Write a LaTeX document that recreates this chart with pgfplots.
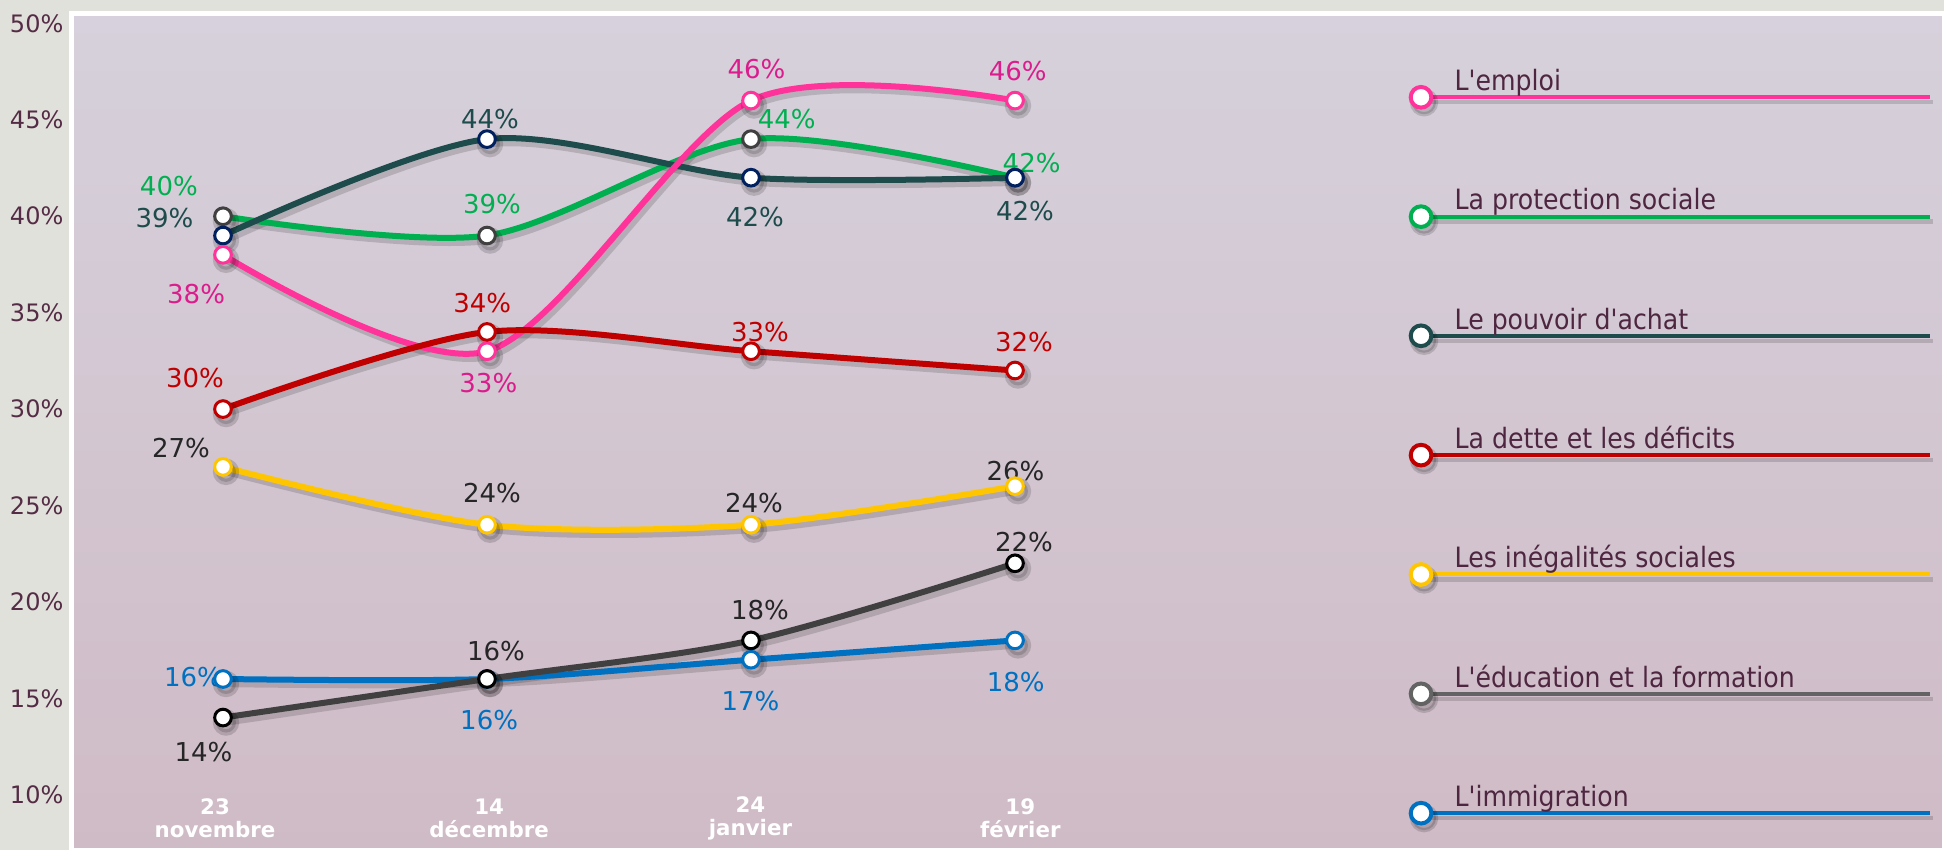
\documentclass[border=0pt]{standalone}
\usepackage{fontspec}
\setmainfont{DejaVu Sans}
\newfontfamily\condfont{DejaVu Sans Condensed}
\usepackage{pgfplots}
\pgfplotsset{compat=1.18}

\definecolor{pageback}{HTML}{E1E1DB}
\definecolor{bgtop}{HTML}{D6D1DC}
\definecolor{bgbot}{HTML}{CFBBC6}
\definecolor{ticktext}{HTML}{542C45}
\definecolor{legtext}{HTML}{4F2640}
\definecolor{cemploi}{HTML}{FF3399}
\definecolor{lemploi}{HTML}{DB1C8C}
\definecolor{cprot}{HTML}{00B050}
\definecolor{cpouv}{HTML}{1E4B4B}
\definecolor{mpouv}{HTML}{002060}
\definecolor{cdette}{HTML}{C00000}
\definecolor{cinegal}{HTML}{FFC600}
\definecolor{ceduc}{HTML}{404040}
\definecolor{leduc}{HTML}{636363}
\definecolor{cimmig}{HTML}{0070C0}
\definecolor{darklab}{HTML}{262626}

\tikzset{
  lab/.style={font=\fontsize{7.8}{9}\selectfont, inner sep=0pt},
  xl/.style={font=\bfseries\fontsize{6.4}{6.9}\selectfont, text=white,
    align=center, inner sep=0pt},
  lt/.style={font=\condfont\fontsize{8.4}{9}\selectfont, text=legtext,
    anchor=base west, inner sep=0pt},
}

\begin{document}
\begin{tikzpicture}
% page behind the framed plot area (1 px = 0.3pt)
\fill[pageback] (-21.6pt,0) rectangle (561.6pt,255pt);
\begin{axis}[
  scale only axis,
  width=561.6pt, height=250.8pt,
  xmin=-0.572, xmax=6.519,
  ymin=7.13, ymax=50.49,
  axis line style={draw=white, line width=1.5pt},
  axis background/.style={shade, top color=bgtop, bottom color=bgbot},
  xtick=\empty,
  ytick={10,15,...,50},
  yticklabel={\pgfmathprintnumber{\tick}\%},
  /pgf/number format/assume math mode=true,
  yticklabel style={font=\fontsize{7.2}{8}\selectfont, text=ticktext,
    anchor=east, inner sep=0pt, xshift=-2.4pt},
  major tick length=0pt,
  shadow/.style={black, opacity=0.15, line width=1.9pt, smooth,
    xshift=0.9pt, yshift=-1.5pt, mark=*, mark size=3pt},
  legshadow/.style={black, opacity=0.15, line width=1.3pt, sharp plot,
    xshift=0.9pt, yshift=-1.5pt, mark=*, mark indices={1}, mark size=3.6pt},
  serie/.style 2 args={#1, line width=1.8pt, smooth, mark=*, mark size=2.5pt,
    mark options={fill=white, draw=#2, line width=0.9pt}},
  leg/.style={#1, line width=1.2pt, sharp plot, mark=*, mark indices={1}, mark size=3.1pt,
    mark options={fill=white, draw=#1, line width=1.2pt}},
]
% shadows
\addplot[shadow] coordinates {(0,16) (1,16) (2,17) (3,18)};
\addplot[shadow] coordinates {(0,14) (1,16) (2,18) (3,22)};
\addplot[shadow] coordinates {(0,27) (1,24) (2,24) (3,26)};
\addplot[shadow] coordinates {(0,40) (1,39) (2,44) (3,42)};
\addplot[shadow] coordinates {(0,39) (1,44) (2,42) (3,42)};
\addplot[shadow] coordinates {(0,38) (1,33) (2,46) (3,46)};
\addplot[shadow] coordinates {(0,30) (1,34) (2,33) (3,32)};
\addplot[legshadow] coordinates {(4.538,46.17) (6.466,46.17)};
\addplot[legshadow] coordinates {(4.538,39.98) (6.466,39.98)};
\addplot[legshadow] coordinates {(4.538,33.80) (6.466,33.80)};
\addplot[legshadow] coordinates {(4.538,27.61) (6.466,27.61)};
\addplot[legshadow] coordinates {(4.538,21.42) (6.466,21.42)};
\addplot[legshadow] coordinates {(4.538,15.23) (6.466,15.23)};
\addplot[legshadow] coordinates {(4.538,9.04) (6.466,9.04)};

% series
\addplot[serie={cimmig}{cimmig}] coordinates {(0,16) (1,16) (2,17) (3,18)};
\addplot[serie={ceduc}{black}] coordinates {(0,14) (1,16) (2,18) (3,22)};
\addplot[serie={cinegal}{cinegal}] coordinates {(0,27) (1,24) (2,24) (3,26)};
\addplot[serie={cprot}{ceduc}] coordinates {(0,40) (1,39) (2,44) (3,42)};
\addplot[serie={cpouv}{mpouv}] coordinates {(0,39) (1,44) (2,42) (3,42)};
\addplot[serie={cemploi}{cemploi}] coordinates {(0,38) (1,33) (2,46) (3,46)};
\addplot[serie={cdette}{cdette}] coordinates {(0,30) (1,34) (2,33) (3,32)};

% legend
\addplot[leg=cemploi] coordinates {(4.538,46.17) (6.466,46.17)};
\addplot[leg=cprot] coordinates {(4.538,39.98) (6.466,39.98)};
\addplot[leg=cpouv] coordinates {(4.538,33.80) (6.466,33.80)};
\addplot[leg=cdette] coordinates {(4.538,27.61) (6.466,27.61)};
\addplot[leg=cinegal] coordinates {(4.538,21.42) (6.466,21.42)};
\addplot[leg=leduc] coordinates {(4.538,15.23) (6.466,15.23)};
\addplot[leg=cimmig] coordinates {(4.538,9.04) (6.466,9.04)};
\node[lt] at (axis cs:4.663,46.17) [yshift=2pt] {L'emploi};
\node[lt] at (axis cs:4.663,39.98) [yshift=2pt] {La protection sociale};
\node[lt] at (axis cs:4.663,33.80) [yshift=2pt] {Le pouvoir d'achat};
\node[lt] at (axis cs:4.663,27.61) [yshift=2pt] {La dette et les déficits};
\node[lt] at (axis cs:4.663,21.42) [yshift=2pt] {Les inégalités sociales};
\node[lt] at (axis cs:4.663,15.23) [yshift=2pt] {L'éducation et la formation};
\node[lt] at (axis cs:4.663,9.04) [yshift=2pt] {L'immigration};

% data labels
\node[lab, text=lemploi] at (axis cs:-0.102,35.95) {38\%};
\node[lab, text=lemploi] at (axis cs:1.005,31.34) {33\%};
\node[lab, text=lemploi] at (axis cs:2.021,47.62) {46\%};
\node[lab, text=lemploi] at (axis cs:3.010,47.55) {46\%};
\node[lab, text=cprot] at (axis cs:-0.205,41.57) {40\%};
\node[lab, text=cprot] at (axis cs:1.019,40.64) {39\%};
\node[lab, text=cprot] at (axis cs:2.135,45.05) {44\%};
\node[lab, text=cprot] at (axis cs:3.063,42.78) {42\%};
\node[lab, text=cpouv] at (axis cs:-0.222,39.90) {39\%};
\node[lab, text=cpouv] at (axis cs:1.011,45.03) {44\%};
\node[lab, text=cpouv] at (axis cs:2.015,39.98) {42\%};
\node[lab, text=cpouv] at (axis cs:3.038,40.29) {42\%};
\node[lab, text=cdette] at (axis cs:-0.106,31.63) {30\%};
\node[lab, text=cdette] at (axis cs:0.982,35.52) {34\%};
\node[lab, text=cdette] at (axis cs:2.034,33.98) {33\%};
\node[lab, text=cdette] at (axis cs:3.034,33.48) {32\%};
\node[lab, text=darklab] at (axis cs:-0.159,27.97) {27\%};
\node[lab, text=darklab] at (axis cs:1.019,25.62) {24\%};
\node[lab, text=darklab] at (axis cs:2.011,25.11) {24\%};
\node[lab, text=darklab] at (axis cs:3.002,26.78) {26\%};
\node[lab, text=darklab] at (axis cs:-0.074,12.20) {14\%};
\node[lab, text=darklab] at (axis cs:1.034,17.47) {16\%};
\node[lab, text=darklab] at (axis cs:2.034,19.58) {18\%};
\node[lab, text=darklab] at (axis cs:3.034,23.11) {22\%};
\node[lab, text=cimmig] at (axis cs:-0.114,16.09) {16\%};
\node[lab, text=cimmig] at (axis cs:1.008,13.87) {16\%};
\node[lab, text=cimmig] at (axis cs:1.998,14.86) {17\%};
\node[lab, text=cimmig] at (axis cs:3.003,15.83) {18\%};

% dates
\node[xl] at (axis cs:-0.03,8.76) {23\\novembre};
\node[xl] at (axis cs:1.008,8.76) {14\\décembre};
\node[xl] at (axis cs:1.998,8.76) {24\\janvier};
\node[xl] at (axis cs:3.02,8.76) {19\\février};
\end{axis}
\pgfresetboundingbox
\path (-21.6pt,0) rectangle (561.6pt,255pt);
\end{tikzpicture}
\end{document}
